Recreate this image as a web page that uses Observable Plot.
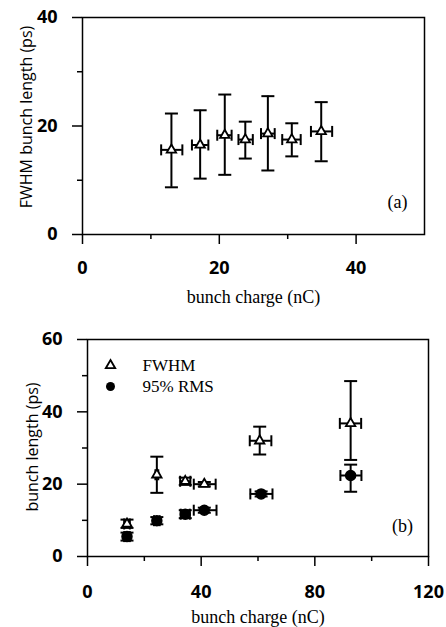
<!DOCTYPE html>
<html>
<head>
<meta charset="utf-8">
<script src="https://cdn.jsdelivr.net/npm/d3@7"></script>
<script src="https://cdn.jsdelivr.net/npm/@observablehq/plot@0.6"></script>
<style>
  html, body { margin: 0; padding: 0; background: white; }
  #chart { width: 446px; height: 627px; }
  #chart svg { display: block; }
</style>
</head>
<body>
<div id="chart"></div>
<script>
// ---- Panel (a): FWHM bunch length vs bunch charge ----
const aCharge   = [13.0, 17.2, 20.8, 23.8, 27.1, 30.6, 34.9];
const aLength   = [15.6, 16.5, 18.3, 17.5, 18.6, 17.5, 19.0];
const aLenLo    = [8.7, 10.3, 11.0, 14.0, 11.8, 14.4, 13.5];
const aLenHi    = [22.3, 22.9, 25.8, 20.8, 25.5, 20.5, 24.4];
const aChargeLo = [11.5, 16.0, 19.7, 22.8, 26.1, 29.2, 33.4];
const aChargeHi = [14.6, 18.4, 21.8, 24.9, 28.1, 31.9, 36.5];

// ---- Panel (b): FWHM and 95% RMS bunch length vs bunch charge ----
const bFwhmCharge   = [13.9, 24.4, 34.4, 41.1, 60.6, 92.6];
const bFwhmLength   = [9.0, 22.6, 20.8, 20.0, 32.0, 36.8];
const bFwhmLenLo    = [7.9, 17.6, 19.8, 19.4, 28.2, 26.7];
const bFwhmLenHi    = [10.2, 27.6, 21.8, 20.6, 35.9, 48.5];
const bFwhmChargeLo = [12.9, 23.9, 32.6, 37.4, 57.1, 88.8];
const bFwhmChargeHi = [14.9, 24.9, 36.2, 45.1, 64.7, 96.3];

const bRmsCharge   = [13.9, 24.4, 34.4, 41.1, 61.1, 92.6];
const bRmsLength   = [5.5, 9.9, 11.7, 12.8, 17.3, 22.4];
const bRmsLenLo    = [4.4, 8.9, 10.6, 12.1, 16.6, 17.9];
const bRmsLenHi    = [6.6, 10.9, 12.8, 13.5, 18.0, 25.4];
const bRmsChargeLo = [12.9, 23.4, 32.8, 37.4, 57.3, 89.0];
const bRmsChargeHi = [14.9, 25.4, 36.0, 45.4, 65.1, 96.4];

// ---- ticks and labels ----
const aXMajor = [0, 20, 40], aXMinor = [10, 30];
const aYMajor = [0, 20, 40], aYMinor = [10, 30];
const bXMajor = [0, 40, 80, 120], bXMinor = [20, 60, 100];
const bYMajor = [0, 20, 40, 60], bYMinor = [10, 30, 50];
const xTitle = "bunch charge (nC)";
const aYTitle = "FWHM bunch length (ps)";
const bYTitle = "bunch length (ps)";
const legendLabels = ["FWHM", "95% RMS"];
const panelTags = ["(a)", "(b)"];

function rows(x, y, ylo, yhi, xlo, xhi) {
  return x.map((v, i) => ({x: v, y: y[i], ylo: ylo[i], yhi: yhi[i], xlo: xlo[i], xhi: xhi[i]}));
}

const capH = {draw(c, s) { const h = Math.sqrt(s / Math.PI); c.moveTo(-h, 0); c.lineTo(h, 0); }};
const capV = {draw(c, s) { const h = Math.sqrt(s / Math.PI); c.moveTo(0, -h); c.lineTo(0, h); }};

const SANS = "'Open Sans', 'DejaVu Sans', sans-serif";
const SERIF = "'Liberation Serif', 'DejaVu Serif', serif";
const TRI_R = 3.5;

function errorMarks(data, filled) {
  return [
    Plot.ruleX(data, {x: "x", y1: "ylo", y2: "yhi", stroke: "black", strokeWidth: 2}),
    Plot.ruleY(data, {y: "y", x1: "xlo", x2: "xhi", stroke: "black", strokeWidth: 2}),
    Plot.dot(data, {x: "x", y: "ylo", symbol: capH, r: 6.5, stroke: "black", strokeWidth: 2}),
    Plot.dot(data, {x: "x", y: "yhi", symbol: capH, r: 6.5, stroke: "black", strokeWidth: 2}),
    Plot.dot(data, {x: "xlo", y: "y", symbol: capV, r: 5.5, stroke: "black", strokeWidth: 2}),
    Plot.dot(data, {x: "xhi", y: "y", symbol: capV, r: 5.5, stroke: "black", strokeWidth: 2}),
    filled
      ? Plot.dot(data, {x: "x", y: "y", symbol: "circle", r: 5, fill: "black", stroke: "black"})
      : Plot.dot(data, {x: "x", y: "y", symbol: "triangle", r: TRI_R, fill: "white", stroke: "black", strokeWidth: 1.8})
  ];
}

function axes(xMajor, xMinor, yMajor, yMinor, xPad, yPad) {
  const tickText = {fontSize: 18, fontFamily: SANS, fontWeight: "bold", fill: "black"};
  return [
    Plot.axisX(xMajor, {tickSize: 10, tickPadding: xPad, strokeWidth: 1.5, label: null, ...tickText}),
    Plot.axisX(xMinor, {tickSize: 5, strokeWidth: 1.5, label: null, tickFormat: () => ""}),
    Plot.axisY(yMajor, {tickSize: 10, tickPadding: yPad, strokeWidth: 1.5, label: null, ...tickText}),
    Plot.axisY(yMinor, {tickSize: 5, strokeWidth: 1.5, label: null, tickFormat: () => ""})
  ];
}

const aData = rows(aCharge, aLength, aLenLo, aLenHi, aChargeLo, aChargeHi);
const bFwhm = rows(bFwhmCharge, bFwhmLength, bFwhmLenLo, bFwhmLenHi, bFwhmChargeLo, bFwhmChargeHi);
const bRms = rows(bRmsCharge, bRmsLength, bRmsLenLo, bRmsLenHi, bRmsChargeLo, bRmsChargeHi);

const plotA = Plot.plot({
  width: 446, height: 310,
  marginTop: 17, marginBottom: 76, marginLeft: 82, marginRight: 22,
  style: {background: "white", color: "black", overflow: "visible"},
  x: {domain: [0, 50]},
  y: {domain: [0, 40]},
  marks: [
    ...axes(aXMajor, aXMinor, aYMajor, aYMinor, 17, 15),
    Plot.frame({stroke: "black", strokeWidth: 1.5}),
    ...errorMarks(aData, false),
    Plot.text([panelTags[0]], {text: d => d, frameAnchor: "bottom-right", dx: -27, dy: -32, textAnchor: "middle", lineAnchor: "middle", fontSize: 18, fontFamily: SERIF}),
    Plot.text([xTitle], {text: d => d, frameAnchor: "bottom", dy: 63, textAnchor: "middle", lineAnchor: "middle", fontSize: 18, fontFamily: SERIF}),
    Plot.text([aYTitle], {text: d => d, frameAnchor: "left", dx: -56, dy: -9, rotate: -90, textAnchor: "middle", lineAnchor: "middle", fontSize: 16, fontFamily: SANS})
  ]
});

const plotB = Plot.plot({
  width: 446, height: 317,
  marginTop: 29, marginBottom: 71, marginLeft: 87, marginRight: 18,
  style: {background: "white", color: "black", overflow: "visible"},
  x: {domain: [0, 120]},
  y: {domain: [0, 60]},
  marks: [
    ...axes(bXMajor, bXMinor, bYMajor, bYMinor, 19, 15),
    Plot.frame({stroke: "black", strokeWidth: 1.5}),
    ...errorMarks(bFwhm, false),
    ...errorMarks(bRms, true),
    Plot.dot([legendLabels[0]], {frameAnchor: "top-left", dx: 23, dy: 26, symbol: "triangle", r: TRI_R, fill: "white", stroke: "black", strokeWidth: 1.8}),
    Plot.dot([legendLabels[1]], {frameAnchor: "top-left", dx: 23, dy: 47, symbol: "circle", r: 4.5, fill: "black"}),
    Plot.text([legendLabels[0]], {text: d => d, frameAnchor: "top-left", dx: 55, dy: 26, textAnchor: "start", lineAnchor: "middle", fontSize: 17, fontFamily: SERIF}),
    Plot.text([legendLabels[1]], {text: d => d, frameAnchor: "top-left", dx: 55, dy: 47, textAnchor: "start", lineAnchor: "middle", fontSize: 17, fontFamily: SERIF}),
    Plot.text([panelTags[1]], {text: d => d, frameAnchor: "bottom-right", dx: -26, dy: -30, textAnchor: "middle", lineAnchor: "middle", fontSize: 18, fontFamily: SERIF}),
    Plot.text([xTitle], {text: d => d, frameAnchor: "bottom", dy: 61, textAnchor: "middle", lineAnchor: "middle", fontSize: 18, fontFamily: SERIF}),
    Plot.text([bYTitle], {text: d => d, frameAnchor: "left", dx: -55, dy: -1, rotate: -90, textAnchor: "middle", lineAnchor: "middle", fontSize: 16, fontFamily: SANS})
  ]
});

const chart = document.getElementById("chart");
chart.appendChild(plotA);
chart.appendChild(plotB);
</script>
</body>
</html>
